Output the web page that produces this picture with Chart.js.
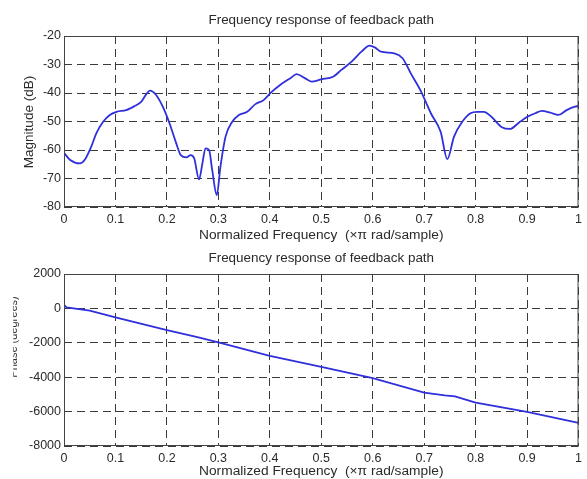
<!DOCTYPE html>
<html><head><meta charset="utf-8">
<script src="https://cdn.jsdelivr.net/npm/chart.js@4/dist/chart.umd.min.js"></script>
<style>
html,body{margin:0;padding:0;background:#fff;}
#wrap{position:relative;width:587px;height:479px;overflow:hidden;}
canvas{position:absolute;left:0;}
#c1{top:0;}
#c2{top:240px;}
</style></head><body>
<div id="wrap">
<canvas id="c1" width="587" height="245"></canvas>
<canvas id="c2" width="587" height="239"></canvas>
</div>
<script>
// ---- data ----
const magFreq = [0,0.012,0.031,0.04,0.053,0.063,0.076,0.089,0.102,0.121,0.137,0.15,0.16,0.167,0.179,0.192,0.205,0.218,0.227,0.238,0.246,0.253,0.2625,0.269,0.275,0.282,0.288,0.297,0.304,0.314,0.327,0.34,0.356,0.372,0.388,0.402,0.42,0.44,0.452,0.468,0.481,0.5,0.523,0.539,0.559,0.578,0.594,0.604,0.616,0.642,0.658,0.674,0.694,0.713,0.732,0.745,0.758,0.774,0.79,0.803,0.816,0.832,0.851,0.867,0.884,0.901,0.916,0.929,0.945,0.961,0.977,0.993,1.0];
const magDb = [-61,-63.5,-64.7,-63.5,-58.8,-54.1,-50.1,-47.7,-46.6,-46.0,-44.6,-43.1,-40.4,-39.2,-40.7,-44.8,-50.6,-57.6,-61.8,-62.6,-61.8,-62.9,-70.3,-64.7,-59.4,-60,-67,-75.8,-65.9,-55.3,-50.1,-47.7,-46.6,-43.9,-42.5,-39.9,-37.2,-34.8,-33.4,-34.8,-36.0,-35.2,-34.3,-31.9,-29.0,-25.5,-23.4,-24.0,-25.5,-26.1,-27.8,-33.1,-39.5,-47.1,-53.6,-63.2,-55.3,-50.1,-47.1,-46.6,-46.6,-48.6,-52.0,-52.6,-50.4,-48.3,-47.1,-46.3,-46.9,-47.7,-46.0,-44.8,-44.6];
const phaseFreq = [0,0.005,0.05,0.1,0.2,0.255,0.265,0.3,0.4,0.5,0.6,0.7,0.74,0.76,0.8,0.9,1.0];
const phaseDeg = [200,60,-130,-525,-1260,-1640,-1720,-1980,-2760,-3400,-4060,-4900,-5060,-5110,-5480,-6020,-6650];
const xTickLabels = ['0','0.1','0.2','0.3','0.4','0.5','0.6','0.7','0.8','0.9','1'];
const magTicks = [-80,-70,-60,-50,-40,-30,-20];
const phaseTicks = [-8000,-6000,-4000,-2000,0,2000];
const titleText = 'Frequency response of feedback path';
const xLabelText = 'Normalized Frequency  (\u00d7\u03c0 rad/sample)';

const FONT = '"Liberation Sans", Arial, sans-serif';
const TXT = '#2a2a2a';

function makeChart(id, xs, ys, yMin, yMax, yStep, yTicks, yLabel, cfg) {
  const decor = {
    id: 'decor',
    afterDraw(chart) {
      const ctx = chart.ctx, a = chart.chartArea;
      ctx.save();
      ctx.strokeStyle = '#444';
      ctx.lineWidth = 1;
      ctx.setLineDash([]);
      ctx.strokeRect(a.left + 0.5, a.top + 0.5, a.right - a.left - 1, a.bottom - a.top - 1);
      ctx.fillStyle = TXT;
      ctx.textAlign = 'center';
      ctx.textBaseline = 'middle';
      ctx.font = '12px ' + FONT;
      const cx = (a.left + a.right) / 2;
      ctx.save(); ctx.translate(cx, cfg.titleY); ctx.scale(1.12, 1); ctx.fillText(titleText, 0, 0); ctx.restore();
      ctx.font = '12.5px ' + FONT;
      ctx.save(); ctx.translate(cx, cfg.xLabelY); ctx.scale(1.1, 1); ctx.fillText(xLabelText, 0, 0); ctx.restore();
      ctx.save();
      if (cfg.clipX) { ctx.beginPath(); ctx.rect(cfg.clipX, 0, 600, 600); ctx.clip(); }
      ctx.translate(cfg.yLabelX, cfg.yLabelY);
      ctx.rotate(-Math.PI / 2);
      ctx.font = cfg.yLabelFont + 'px ' + FONT;
      ctx.fillText(yLabel, 0, 0);
      ctx.restore();
      ctx.restore();
    }
  };
  return new Chart(document.getElementById(id), {
    type: 'line',
    data: { datasets: [{
      data: xs.map((x, i) => ({ x: x, y: ys[i] })),
      borderColor: '#2f2fdc',
      borderWidth: 1.8,
      pointRadius: 0,
      fill: false,
      cubicInterpolationMode: cfg.mono ? 'monotone' : 'default',
      tension: 0
    }]},
    options: {
      responsive: false,
      animation: false,
      events: [],
      layout: { padding: { left: 0, right: 5, top: cfg.top, bottom: 0 } },
      plugins: { legend: { display: false }, tooltip: { enabled: false }, title: { display: false } },
      scales: {
        x: {
          type: 'linear', min: 0, max: 1,
          afterBuildTicks(s) { s.ticks = xTickLabels.map(t => ({ value: parseFloat(t) })); },
          afterFit(s) { s.height = cfg.xH; },
          ticks: { callback: (v, i) => xTickLabels[i], color: TXT, font: { family: FONT, size: 12.5 }, padding: 5, maxRotation: 0, autoSkip: false },
          grid: { color: '#3a3a3a', lineWidth: 1, drawTicks: false },
          border: { display: false, dash: [8, 5] }
        },
        y: {
          type: 'linear', min: yMin, max: yMax,
          afterBuildTicks(s) { s.ticks = yTicks.map(t => ({ value: t })); },
          afterFit(s) { s.width = 64; },
          ticks: { color: TXT, font: { family: FONT, size: 12.5 }, padding: 3, callback: v => String(v) },
          grid: { color: '#3a3a3a', lineWidth: 1, drawTicks: false },
          border: { display: false, dash: [8, 5] }
        }
      }
    },
    plugins: [decor]
  });
}

makeChart('c1', magFreq, magDb, -80, -20, 10, magTicks, 'Magnitude (dB)',
  { top: 36, xH: 245 - 207, titleY: 21, xLabelY: 236, yLabelX: 29, yLabelY: 122, yLabelFont: 13.5, mono: true });
makeChart('c2', phaseFreq, phaseDeg, -8000, 2000, 2000, phaseTicks, 'Phase (degrees)',
  { top: 34, xH: 239 - 206, titleY: 19, xLabelY: 232, yLabelX: 14, yLabelY: 97, yLabelFont: 11, clipX: 13.3, mono: false });
</script>
</body></html>
